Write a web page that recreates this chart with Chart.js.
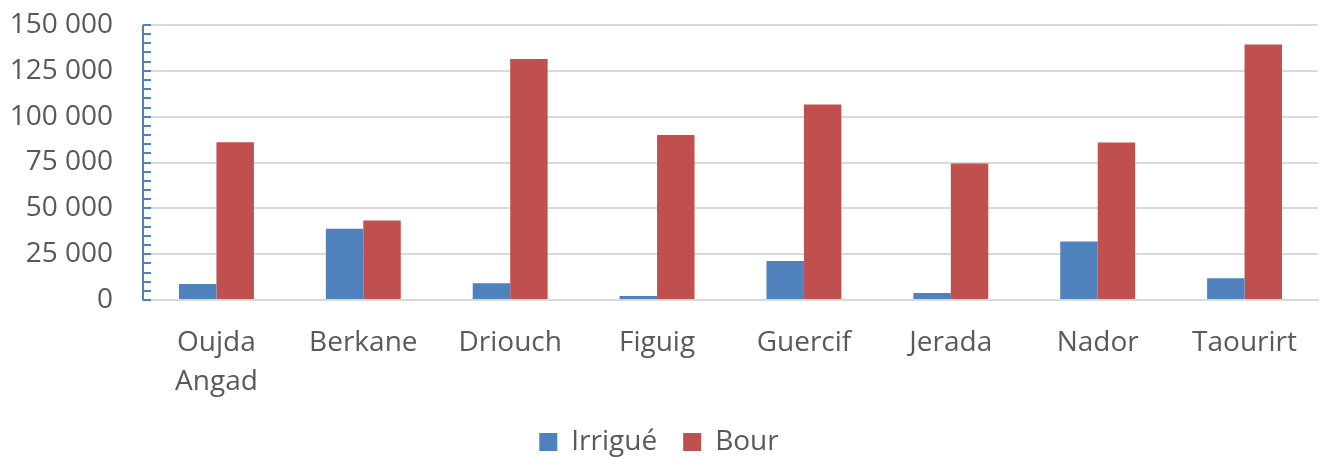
<!DOCTYPE html>
<html>
<head>
<meta charset="utf-8">
<script src="https://cdn.jsdelivr.net/npm/chart.js@4/dist/chart.umd.min.js"></script>
<style>
  html, body { margin: 0; padding: 0; background: #fff; }
  #wrap { width: 1323px; height: 457px; }
</style>
</head>
<body>
<div id="wrap"><canvas id="barChart"></canvas></div>
<script>
const provinces = [["Oujda", "Angad"], "Berkane", "Driouch", "Figuig", "Guercif", "Jerada", "Nador", "Taourirt"];
const irrigue = [8700, 38800, 9100, 2200, 21300, 3800, 31900, 11800];
const bour = [86000, 43400, 131400, 90000, 106600, 74500, 85900, 139400];
const yTicks = [0, 25000, 50000, 75000, 100000, 125000, 150000];

function formatNumber(v) {
  return String(v).replace(/\B(?=(\d{3})+(?!\d))/g, " ");
}

// petites graduations vers l'intérieur, comme dans Excel
const innerTicks = {
  id: "innerTicks",
  afterDraw(chart) {
    const y = chart.scales.y;
    const c = chart.ctx;
    c.save();
    c.strokeStyle = "#4F81BD";
    c.lineWidth = 2;
    for (let v = y.min; v <= y.max; v += 5000) {
      const py = Math.round(y.getPixelForValue(v));
      c.beginPath();
      c.moveTo(y.right, py);
      c.lineTo(y.right + 8, py);
      c.stroke();
    }
    c.beginPath();
    c.moveTo(y.right, y.top);
    c.lineTo(y.right, y.bottom);
    c.stroke();
    c.restore();
  },
};

const ctx = document.getElementById("barChart");

new Chart(ctx, {
  type: "bar",
  data: {
    labels: provinces,
    datasets: [
      {
        label: "Irrigué",
        data: irrigue,
        backgroundColor: "#4F81BD",
        borderWidth: 0,
      },
      {
        label: "Bour",
        data: bour,
        backgroundColor: "#C0504D",
        borderWidth: 0,
      },
    ],
  },
  options: {
    responsive: true,
    maintainAspectRatio: false,
    animation: false,
    layout: {
      padding: { top: 25, right: 5, left: 0, bottom: -9 },
    },
    datasets: {
      bar: {
        barPercentage: 1,
        categoryPercentage: 0.51,
      },
    },
    plugins: {
      legend: {
        position: "bottom",
        labels: {
          color: "#595959",
          font: { family: "Open Sans", size: 28 },
          boxWidth: 18,
          boxHeight: 18,
          padding: 26,
        },
      },
      tooltip: { enabled: false },
    },
    scales: {
      y: {
        min: 0,
        max: 150000,
        afterBuildTicks: (scale) => {
          scale.ticks = yTicks.map((v) => ({ value: v }));
        },
        afterFit: (scale) => {
          scale.width = 143;
          scale.paddingTop = 0;
          scale.paddingBottom = 0;
        },
        ticks: {
          color: "#595959",
          font: { family: "Open Sans", size: 28 },
          padding: 30,
          callback: (v) => formatNumber(v),
        },
        grid: {
          color: "#D9D9D9",
          lineWidth: 2,
          drawTicks: false,
        },
        border: { display: false },
      },
      x: {
        afterFit: (scale) => {
          scale.height = 102;
        },
        ticks: {
          color: "#595959",
          font: { family: "Open Sans", size: 28, lineHeight: 1.4 },
          padding: 15,
          maxRotation: 0,
          autoSkip: false,
        },
        grid: { display: false },
        border: { color: "#D9D9D9", width: 2 },
      },
    },
  },
  plugins: [innerTicks],
});
</script>
</body>
</html>
